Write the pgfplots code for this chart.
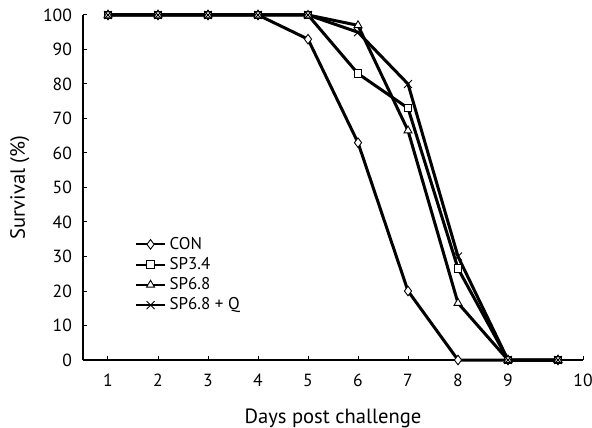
\documentclass[border=0pt]{standalone}
\usepackage{fontspec}
\setmainfont{PT Sans}
\usepackage{pgfplots}
\pgfplotsset{compat=1.18}
\usetikzlibrary{calc}

\begin{document}
\fontsize{8.5}{10}\selectfont
\begin{tikzpicture}
\begin{axis}[
  name=ax,
  scale only axis,
  width=250pt,
  height=172.5pt,
  xmin=0.5, xmax=10.5,
  ymin=0, ymax=100,
  axis lines=left,
  axis line style={-, line width=0.6pt},
  xtick={1,...,9},
  extra x ticks={10.5},
  extra x tick labels={10},
  ytick={0,10,...,100},
  tick align=inside,
  major tick length=2pt,
  tick style={black, line width=0.5pt},
  /pgf/number format/assume math mode=true,
  ticklabel style={font=\fontsize{8.8}{10}\selectfont},
  xticklabel style={yshift=-4pt},
  yticklabel style={xshift=-2.5pt},
  xlabel={Days post challenge},
  ylabel={Survival (\%)},
  label style={font=\fontsize{10.3}{12}\selectfont},
  xlabel style={yshift=-5pt},
  ylabel style={yshift=1pt},
  every axis plot/.append style={line width=1.5pt, black},
  mark options={solid, fill=white, line width=0.45pt},
  legend style={draw=none, fill=none, at={(0.1,0.375)}, anchor=north west,
    font=\fontsize{8.5}{10}\selectfont, row sep=-1.2pt, inner sep=1pt},
  legend cell align=left,
  legend image code/.code={%
    \draw[mark repeat=2, mark phase=2, line width=0.9pt]
      plot coordinates {(0cm,0cm) (0.25cm,0cm) (0.5cm,0cm)};},
  clip=false
]
\addplot[mark=diamond*, mark size=2.4pt] coordinates {
  (1,100) (2,100) (3,100) (4,100) (5,93) (6,63) (7,20) (8,0) (9,0) (10,0)};
\addlegendentry{CON}
\addplot[mark=square*, mark size=1.9pt] coordinates {
  (1,100) (2,100) (3,100) (4,100) (5,100) (6,83) (7,73) (8,26.5) (9,0) (10,0)};
\addlegendentry{SP3.4}
\addplot[mark=triangle*, mark size=2.3pt] coordinates {
  (1,100) (2,100) (3,100) (4,100) (5,100) (6,97) (7,66.5) (8,16.5) (9,0) (10,0)};
\addlegendentry{SP6.8}
\addplot[mark=x, mark size=2.8pt] coordinates {
  (1,100) (2,100) (3,100) (4,100) (5,100) (6,95) (7,80) (8,30) (9,0) (10,0)};
\addlegendentry{SP6.8 + Q}
\end{axis}
\pgfresetboundingbox
\path[use as bounding box] ($(ax.south west)+(-41.5pt,-33.5pt)$) rectangle ($(ax.north east)+(4.5pt,7.5pt)$);
\end{tikzpicture}
\end{document}
